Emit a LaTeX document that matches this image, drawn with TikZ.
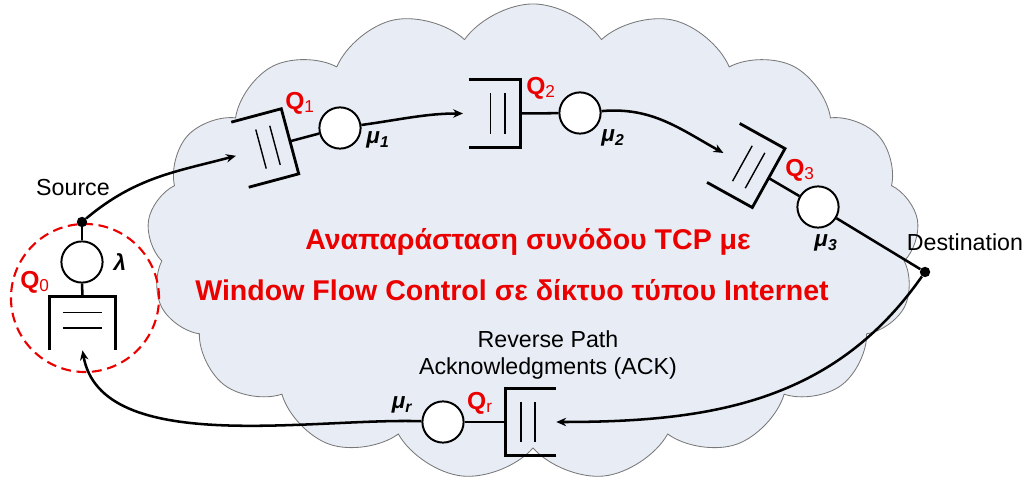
\documentclass[tikz,border=0pt]{standalone}
\usepackage{fontspec}
\setmainfont{Liberation Sans}
\usepackage{xcolor}
\usetikzlibrary{shapes.symbols,arrows.meta,positioning,calc}

\definecolor{cloudfill}{RGB}{232,237,245}
\definecolor{cloudline}{RGB}{120,120,120}
\definecolor{qred}{RGB}{235,0,0}

% open queue: closed side at the node's east
\newcommand{\drawqueue}[1]{%
  \draw[qline] (#1.north west) -- (#1.north east) -- (#1.south east) -- (#1.south west);
  \foreach \f in {0.3,0.58} {
    \coordinate (#1-t) at ($(#1.north east)!\f!(#1.north west)$);
    \coordinate (#1-b) at ($(#1.south east)!\f!(#1.south west)$);
    \draw[qinner] ($(#1-t)!0.2!(#1-b)$) -- ($(#1-t)!0.8!(#1-b)$);
  }}

\begin{document}
\begin{tikzpicture}[
    x=0.025cm, y=0.025cm,
    server/.style={circle, draw, line width=1.4pt, fill=white, minimum size=1.03cm, inner sep=0},
    queue/.style={rectangle, minimum width=1.28cm, minimum height=1.67cm, inner sep=0},
    qline/.style={line width=2pt},
    qinner/.style={line width=1pt},
    link/.style={line width=1.8pt},
    arrow/.style={link, -{Stealth[length=7pt,width=6pt]}},
    dot/.style={circle, fill, inner sep=0, minimum size=0.26cm},
    lbl/.style={font=\fontsize{16.5}{19}\selectfont, align=center},
    qlbl/.style={text=qred, font=\fontsize{17.5}{20}\selectfont},
    rate/.style={font=\fontsize{16}{18}\selectfont\bfseries\itshape},
    title/.style={text=qred, font=\fontsize{20.3}{24}\selectfont\bfseries}
]
\useasboundingbox (0,0) rectangle (1024,485);

% network cloud
\node[cloud, cloud puffs=17, cloud puff arc=110, aspect=1.61, draw=cloudline, fill=cloudfill,
      line width=0.6pt, minimum width=19.3cm, minimum height=11.9cm, inner sep=0] (net) at (533,243) {};

% source Q0
\node[circle, draw=qred, dashed, dash pattern=on 7pt off 4pt, line width=1.5pt, minimum size=3.7cm] (srcq) at (85,187) {};
\node[dot] (srcdot) at (82,263) {};
\node[server] (lam) at (82,223) {};
\node[queue, rotate=90, minimum width=1.33cm, minimum height=1.63cm] (q0) at (82.5,161.5) {};
\drawqueue{q0}
\draw[link] (srcdot) -- (lam.north);
\draw[link] (lam.south) -- (q0.east);

% forward path
\node[queue, rotate=15] (q1) at (265,337) {};
\drawqueue{q1}
\node[server] (mu1) at (340,357) {};
\node[queue] (q2) at (494.5,371.5) {};
\drawqueue{q2}
\node[server] (mu2) at (580,372) {};
\node[queue, rotate=-29] (q3) at (746,319.5) {};
\drawqueue{q3}
\node[server] (mu3) at (818,278) {};
\node[dot] (dst) at (925,213) {};

\draw[link] (q1.east) -- (mu1);
\draw[link] (q2.east) -- (mu2);
\draw[link] (q3.east) -- (mu3);
\draw[link] (mu3) -- (dst);

\draw[arrow, shorten >=3pt] (srcdot) to[out=40, in=195] (q1.west);
\draw[arrow, shorten >=4pt] (mu1) to[out=8, in=180] (q2.west);
\draw[arrow] (mu2) to[out=5, in=151] (q3.west);

% reverse path
\node[queue, rotate=180, minimum height=1.65cm, minimum width=1.25cm] (qr) at (531,63) {};
\drawqueue{qr}
\node[server] (mur) at (443,63) {};
\draw[link] (qr.east) -- (mur);
\draw[arrow] (dst) to[out=235, in=0] (qr.west);
\draw[arrow] (mur) to[out=178, in=-80, looseness=0.8] (q0.west);

% labels
\node[lbl] (srclbl) at (73,297) {Source};
\node[lbl] (dstlbl) at (965,243) {Destination};
\node[lbl] (revlbl) at (548,130) {Reverse Path\\Acknowledgments (ACK)};
\node[qlbl] (q0lbl) at (35,203) {\textbf{Q}\textsubscript{0}};
\node[qlbl] (q1lbl) at (300,382) {\textbf{Q}\textsubscript{1}};
\node[qlbl] (q2lbl) at (541,397) {\textbf{Q}\textsubscript{2}};
\node[qlbl] (q3lbl) at (800,315) {\textbf{Q}\textsubscript{3}};
\node[qlbl] (qrlbl) at (480,82) {\textbf{Q}\textsubscript{r}};
\node[rate] (lamlbl) at (120,223) {λ};
\node[rate] (mu1lbl) at (378,345) {μ\textsubscript{1}};
\node[rate] (mu2lbl) at (613,347) {μ\textsubscript{2}};
\node[rate] (mu3lbl) at (826,242) {μ\textsubscript{3}};
\node[rate] (murlbl) at (402,80) {μ\textsubscript{r}};

\node[title] (t1) at (528,243) {Αναπαράσταση συνόδου TCP με};
\node[title] (t2) at (512,195) {Window Flow Control σε δίκτυο τύπου Internet};
\end{tikzpicture}
\end{document}
